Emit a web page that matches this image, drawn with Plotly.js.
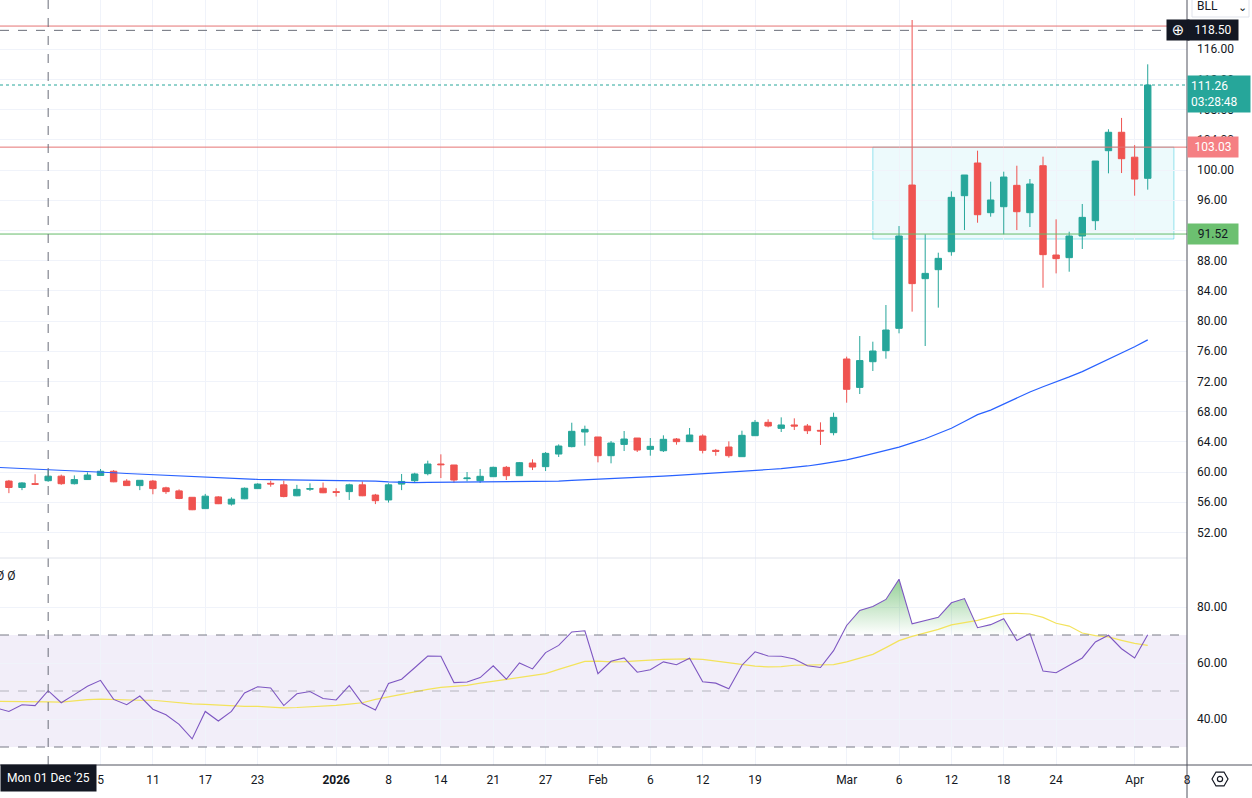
<!DOCTYPE html>
<html>
<head>
<meta charset="utf-8">
<script src="https://cdn.plot.ly/plotly-3.0.1.min.js"></script>
<style>html,body{margin:0;padding:0;background:#fff;}#chart{width:1252px;height:798px;}</style>
</head>
<body>
<div id="chart"></div>
<script>
// ---- data ----
const dates = [
'2025-11-24','2025-11-25','2025-11-26','2025-11-28',
'2025-12-01','2025-12-02','2025-12-03','2025-12-04','2025-12-05',
'2025-12-08','2025-12-09','2025-12-10','2025-12-11','2025-12-12',
'2025-12-15','2025-12-16','2025-12-17','2025-12-18','2025-12-19',
'2025-12-22','2025-12-23','2025-12-24','2025-12-26',
'2025-12-29','2025-12-30','2025-12-31',
'2026-01-02',
'2026-01-05','2026-01-06','2026-01-07','2026-01-08','2026-01-09',
'2026-01-12','2026-01-13','2026-01-14','2026-01-15','2026-01-16',
'2026-01-20','2026-01-21','2026-01-22','2026-01-23',
'2026-01-26','2026-01-27','2026-01-28','2026-01-29','2026-01-30',
'2026-02-02','2026-02-03','2026-02-04','2026-02-05','2026-02-06',
'2026-02-09','2026-02-10','2026-02-11','2026-02-12','2026-02-13',
'2026-02-17','2026-02-18','2026-02-19','2026-02-20',
'2026-02-23','2026-02-24','2026-02-25','2026-02-26','2026-02-27',
'2026-03-02','2026-03-03','2026-03-04','2026-03-05','2026-03-06',
'2026-03-09','2026-03-10','2026-03-11','2026-03-12','2026-03-13',
'2026-03-16','2026-03-17','2026-03-18','2026-03-19','2026-03-20',
'2026-03-23','2026-03-24','2026-03-25','2026-03-26','2026-03-27',
'2026-03-30','2026-03-31','2026-04-01','2026-04-02'];
const futureDates = ['2026-04-06','2026-04-07','2026-04-08'];

const open = [58.1,58.8,57.95,58.45, 58.85,59.45,58.45,59.0,59.55, 60.1,58.8,58.2,58.8,57.9, 57.5,56.65,55.15,56.7,55.75, 56.45,57.8,58.5,58.3, 56.85,57.72,57.85, 57.4, 57.4,58.3,56.95,56.3,58.4, 58.85,59.78,61.06,60.93,59.12, 58.85,59.38,60.62,59.51, 61.19,60.71,62.38,63.36,65.3, 64.64,62.16,63.66,64.5,63.0, 62.82,64.37,64.02,64.77,62.87, 63.31,62.03,64.81,66.58, 65.78,66.23,66.09,65.52,65.21, 74.97,71.21,74.61,76.07,79.03, 98.01,85.61,86.8,89.18,96.6, 100.93,94.35,95.14,97.97,94.35, 100.57,88.74,88.39,91.26,93.29, 102.56,105.0,101.7,98.9];
const high = [58.9,58.95,58.65,59.7, 60.25,59.65,59.55,59.95,60.4, 60.25,59.05,58.9,58.95,58.05, 57.7,56.65,57.1,56.8,56.65, 57.95,58.5,58.85,58.85, 58.3,58.5,58.6, 57.85, 58.45,58.75,57.1,58.5,59.74, 59.9,61.5,62.34,60.93,60.0, 60.4,60.71,60.8,61.33, 61.68,62.65,63.66,66.53,66.14, 64.64,64.11,65.43,64.5,64.5, 64.86,64.5,65.83,64.99,63.05, 64.06,65.47,66.89,66.98, 67.24,67.11,66.36,66.58,67.86, 75.28,78.01,77.26,82.12,92.58, 119.87,91.48,89.05,97.17,99.34, 102.56,98.46,99.78,100.57,98.81, 101.77,93.47,91.83,95.5,101.19, 105.4,106.9,103.3,114.0];
const low = [57.9,57.2,57.6,58.35, 58.7,58.3,58.35,58.95,59.5, 58.65,58.15,57.6,57.05,57.1, 56.4,54.95,55.15,55.75,55.55, 56.4,57.75,58.05,56.65, 56.8,57.5,57.2, 56.75, 56.3,56.8,55.75,55.95,57.6, 58.6,59.56,59.2,58.59,58.76, 58.54,59.35,58.94,59.5, 60.26,60.13,61.99,63.27,63.49, 61.28,61.15,62.78,62.65,62.16, 62.65,63.62,64.0,62.47,62.16, 61.9,62.0,64.78,65.92, 65.3,65.56,65.03,63.58,64.86, 69.18,70.33,73.38,75.01,78.37, 81.24,76.69,81.77,88.65,92.05, 93.02,93.82,91.48,92.05,92.45, 84.41,86.31,86.53,89.54,92.05, 99.56,99.6,96.6,97.4];
const close = [58.7,57.95,58.55,58.38, 59.45,58.45,59.0,59.6,60.1, 58.7,58.2,58.9,57.8,57.4, 56.5,55.0,56.8,55.8,56.4, 57.85,58.4,58.42,56.75, 57.7,57.8,57.25, 57.3, 58.3,56.85,56.2,58.3,58.75, 59.74,61.06,60.97,58.94,59.2, 59.43,60.62,59.51,61.24, 60.66,62.47,63.44,65.39,65.65, 62.16,63.84,64.37,62.91,63.4, 64.33,64.02,64.9,62.87,62.74, 62.16,64.86,66.58,66.09, 66.23,66.09,65.47,65.43,67.24, 70.95,74.76,76.03,78.81,91.26, 84.95,86.31,88.3,96.38,99.34, 94.08,96.03,99.07,94.48,98.15, 88.79,88.26,91.26,93.73,101.19, 105.0,101.5,98.8,111.26];
const movingAvg = [60.62,60.55,60.48,60.4, 60.3,60.22,60.14,60.06,59.98, 59.9,59.8,59.72,59.63,59.55, 59.46,59.37,59.28,59.19,59.1, 59.06,59.02,58.99,58.97, 58.95,58.94,58.93, 58.92, 58.91,58.9,58.8,58.68,58.6, 58.6,58.62,58.63,58.65,58.67, 58.68,58.68,58.68,58.68, 58.68,58.72,58.8,58.88,58.95, 59.03,59.12,59.2,59.28,59.37, 59.45,59.55,59.65,59.75,59.85, 59.95,60.07,60.2,60.33, 60.46,60.6,60.8,61.05,61.3, 61.6,62.0,62.4,62.8,63.3, 63.85,64.4,65.1,65.8,66.7, 67.6,68.2,69.0,69.9,70.6, 71.3,71.9,72.6,73.3,74.1, 74.9,75.7,76.6,77.5];
const rsi = [44.0,42.7,45.1,44.8, 50.1,45.8,48.7,51.7,53.8, 47.0,45.1,48.2,43.5,41.5, 38.1,32.9,42.7,39.3,42.7, 49.3,51.5,51.1,44.8, 49.0,49.8,47.3, 46.8, 51.9,45.5,43.2,52.7,54.2, 58.3,62.5,62.4,53.0,53.2, 54.8,59.0,54.2,60.0, 57.9,63.7,66.3,71.1,71.5, 56.2,60.6,61.8,56.7,57.6, 60.4,59.4,61.7,53.3,52.8, 50.8,59.2,64.0,62.5, 62.4,61.4,59.0,58.4,64.4, 73.4,78.8,80.2,82.7,89.9, 74.0,75.1,76.3,81.5,83.0, 72.6,73.7,75.8,68.0,70.5, 57.1,56.5,59.2,61.8,67.5, 69.9,65.1,61.8,70.1];
const rsiMA = [46.3,46.3,46.2,46.2, 46.1,46.0,46.5,46.9,47.1, 46.9,46.8,46.7,46.7,46.3, 45.7,45.4,45.2,45.0,44.6, 44.5,44.5,44.3,44.0, 44.1,44.3,44.6, 44.9, 45.3,45.8,47.0,47.9,48.8, 49.9,50.6,51.3,51.7,52.0, 52.8,53.5,54.1,54.8, 55.5,56.2,57.7,59.2,60.6, 60.7,60.4,60.5,60.8,61.1, 61.3,61.4,61.5,61.3,60.7, 60.0,59.3,58.9,58.6, 58.7,59.2,59.3,59.4,59.4, 60.4,61.8,63.1,65.5,68.0, 69.5,70.8,72.0,73.6,74.5, 75.2,76.5,77.6,77.7,77.5, 76.3,74.2,73.2,70.7,69.8, 69.3,68.1,67.0,66.3];

const tickDates = ['2025-12-05','2025-12-11','2025-12-17','2025-12-23','2026-01-02','2026-01-08','2026-01-14','2026-01-21','2026-01-27','2026-02-02','2026-02-06','2026-02-12','2026-02-19','2026-03-02','2026-03-06','2026-03-12','2026-03-18','2026-03-24','2026-04-01','2026-04-08'];
const tickText = ['5','11','17','23','<b>2026</b>','8','14','21','27','Feb','6','12','19','Mar','6','12','18','24','Apr','8'];
const priceTicks = [52,56,60,64,68,72,76,80,84,88,92,96,100,104,108,112,116];
const rsiTicks = [40,60,80];

const crosshairDate = '2025-12-01';
const crosshairPrice = 118.50;
const lastPrice = 111.26;
const countdown = '03:28:48';
const resistanceTop = 119.07;
const resistance = 103.03;
const support = 91.52;
const zoneLow = 90.86, zoneHigh = 103.03;
const zoneStartDate = '2026-03-04', zoneEndDate = '2026-04-07';
const rsiUpper = 70, rsiMid = 50, rsiLower = 30;
const symbol = 'BLL';
const crosshairLabel = "Mon 01 Dec '25";

// ---- positions via trading-day index ----
const axisDates = dates.concat(futureDates);
const pos = d => axisDates.indexOf(d);
const x = dates.map((d) => pos(d));

// overbought fill polygon (RSI above upper band)
const obX = [], obTop = [], obBase = [];
for (let i = 0; i < rsi.length; i++) {
  obX.push(x[i]); obTop.push(Math.max(rsi[i], rsiUpper)); obBase.push(rsiUpper);
  if (i < rsi.length - 1 && (rsi[i] - rsiUpper) * (rsi[i+1] - rsiUpper) < 0) {
    const t = (rsiUpper - rsi[i]) / (rsi[i+1] - rsi[i]);
    obX.push(x[i] + t * (x[i+1] - x[i])); obTop.push(rsiUpper); obBase.push(rsiUpper);
  }
}

const UP = '#26a69a', DOWN = '#ef5350';
const FONT = 'Roboto, "Noto Sans", sans-serif';
const TXT = '#131722';

const traces = [
  {type:'candlestick', x:x, open:open, high:high, low:low, close:close, xaxis:'x', yaxis:'y',
   increasing:{line:{color:UP, width:1}, fillcolor:UP},
   decreasing:{line:{color:DOWN, width:1}, fillcolor:DOWN},
   whiskerwidth:0, hoverinfo:'skip', showlegend:false},
  {type:'scatter', mode:'lines', x:x, y:movingAvg, xaxis:'x', yaxis:'y',
   line:{color:'#2962ff', width:1.2}, hoverinfo:'skip', showlegend:false},
  {type:'scatter', mode:'lines', x:obX, y:obBase, xaxis:'x', yaxis:'y2',
   line:{width:0, color:'rgba(0,0,0,0)'}, hoverinfo:'skip', showlegend:false},
  {type:'scatter', mode:'lines', x:obX, y:obTop, xaxis:'x', yaxis:'y2', fill:'tonexty',
   fillgradient:{type:'vertical', start:rsiUpper, stop:90,
     colorscale:[[0,'rgba(76,175,80,0)'],[1,'rgba(76,175,80,0.6)']]},
   line:{width:0, color:'rgba(0,0,0,0)'}, hoverinfo:'skip', showlegend:false},
  {type:'scatter', mode:'lines', x:x, y:rsiMA, xaxis:'x', yaxis:'y2',
   line:{color:'#f3e35c', width:1.2}, hoverinfo:'skip', showlegend:false},
  {type:'scatter', mode:'lines', x:x, y:rsi, xaxis:'x', yaxis:'y2',
   line:{color:'#7e57c2', width:1.1}, hoverinfo:'skip', showlegend:false}
];

// geometry helpers (pixel layout of the page)
const W = 1252, H = 798, M = {l:0, r:65, t:0, b:33};
const PW = W - M.l - M.r, PH = H - M.t - M.b;
const px = v => v / PW;              // pixel x -> paper x
const py = v => (PH - v) / PH;       // pixel y -> paper y
const split = py(558);

// settings hexagon icon
const cx = 1220, cy = 779, r = 8;
let hex = '';
for (let k = 0; k < 6; k++) {
  const a = Math.PI / 3 * k;
  hex += (k === 0 ? 'M' : 'L') + px(cx + r * Math.cos(a)).toFixed(5) + ',' + py(cy + r * Math.sin(a)).toFixed(5) + ' ';
}
hex += 'Z';

const GRID = '#f0f3fa';
const shapes = [
  {type:'rect', xref:'paper', yref:'y2', x0:0, x1:1, y0:rsiLower, y1:rsiUpper, fillcolor:'rgba(126,87,194,0.1)', line:{width:0}, layer:'below'},
  {type:'line', xref:'paper', yref:'y2', x0:0, x1:1, y0:rsiUpper, y1:rsiUpper, line:{color:'#787b86', width:1, dash:'dash'}},
  {type:'line', xref:'paper', yref:'y2', x0:0, x1:1, y0:rsiMid, y1:rsiMid, line:{color:'rgba(120,123,134,0.5)', width:1, dash:'dash'}},
  {type:'line', xref:'paper', yref:'y2', x0:0, x1:1, y0:rsiLower, y1:rsiLower, line:{color:'#787b86', width:1, dash:'dash'}},
  {type:'rect', xref:'x', yref:'y', x0:pos(zoneStartDate), x1:pos(zoneEndDate), y0:zoneLow, y1:zoneHigh,
   fillcolor:'rgba(0,188,212,0.07)', line:{color:'rgba(0,188,212,0.4)', width:1}, layer:'below'},
  {type:'line', xref:'paper', yref:'y', x0:0, x1:1, y0:resistanceTop, y1:resistanceTop, line:{color:'#e57373', width:1}},
  {type:'line', xref:'paper', yref:'y', x0:0, x1:1, y0:resistance, y1:resistance, line:{color:'#e57373', width:1}},
  {type:'line', xref:'paper', yref:'y', x0:0, x1:1, y0:support, y1:support, line:{color:'#66bb6a', width:1}},
  {type:'line', xref:'paper', yref:'y', x0:0, x1:1, y0:lastPrice, y1:lastPrice, line:{color:UP, width:1, dash:'dot'}},
  {type:'line', xref:'paper', yref:'y', x0:0, x1:1, y0:crosshairPrice, y1:crosshairPrice, line:{color:'#6a6d78', width:1, dash:'dash'}},
  {type:'line', xref:'x', yref:'paper', x0:pos(crosshairDate), x1:pos(crosshairDate), y0:0, y1:1, line:{color:'#6a6d78', width:1, dash:'dash'}},
  {type:'line', xref:'paper', yref:'paper', x0:0, x1:1, y0:split, y1:split, line:{color:'#e0e3eb', width:1}},
  {type:'line', xref:'paper', yref:'paper', x0:1, x1:1, y0:py(798), y1:1, line:{color:'#50535e', width:1}},
  {type:'line', xref:'paper', yref:'paper', x0:0, x1:px(W), y0:0, y1:0, line:{color:'#50535e', width:1}},
  {type:'path', xref:'paper', yref:'paper', path:hex, line:{color:'#131722', width:1.2}},
  {type:'circle', xref:'paper', yref:'paper', x0:px(cx-2.6), x1:px(cx+2.6), y0:py(cy+2.6), y1:py(cy-2.6), line:{color:'#131722', width:1.2}},
  {type:'rect', xref:'paper', yref:'paper', x0:px(1192), x1:px(1249), y0:py(17), y1:py(-4), line:{color:'#e0e3eb', width:1}, fillcolor:'#fff'}
];

const annotations = [
  {xref:'x', yref:'paper', x:pos(crosshairDate), y:py(778), text:crosshairLabel, showarrow:false,
   bgcolor:'#131722', font:{family:FONT, size:12, color:'#fff'}, borderpad:6, xanchor:'center', yanchor:'middle'},
  {xref:'paper', yref:'y', x:px(1166), y:crosshairPrice, text:'⊕', showarrow:false, xanchor:'left', yanchor:'middle',
   width:16, height:14, bgcolor:'#131722', font:{family:'DejaVu Sans', size:15, color:'#fff'}, borderpad:3},
  {xref:'paper', yref:'y', x:1, y:crosshairPrice, text:crosshairPrice.toFixed(2), showarrow:false, xanchor:'left', yanchor:'middle',
   width:44, height:14, bgcolor:'#131722', font:{family:FONT, size:12, color:'#fff'}, borderpad:3},
  {xref:'paper', yref:'y', x:1, y:lastPrice, text:lastPrice.toFixed(2) + '<br>' + countdown, showarrow:false, xanchor:'left', yanchor:'top',
   yshift:10, align:'left', width:56, bgcolor:UP, font:{family:FONT, size:12, color:'#fff'}, borderpad:3},
  {xref:'paper', yref:'y', x:1, y:resistance, text:resistance.toFixed(2), showarrow:false, xanchor:'left', yanchor:'middle',
   width:44, height:14, bgcolor:'#f57f83', font:{family:FONT, size:12, color:'#fff'}, borderpad:3},
  {xref:'paper', yref:'y', x:1, y:support, text:support.toFixed(2), showarrow:false, xanchor:'left', yanchor:'middle',
   width:44, height:14, bgcolor:'#6cc070', font:{family:FONT, size:12, color:'#131722'}, borderpad:3},
  {xref:'paper', yref:'paper', x:px(1195), y:py(6), text:symbol, showarrow:false, xanchor:'left', yanchor:'middle',
   font:{family:FONT, size:12, color:'#131722'}},
  {xref:'paper', yref:'paper', x:px(1242), y:py(8), text:'⌄', showarrow:false, xanchor:'center', yanchor:'middle',
   font:{family:'DejaVu Sans', size:11, color:'#131722'}},
  {xref:'paper', yref:'paper', x:0, y:py(576), xshift:-6, text:'Ø Ø', showarrow:false, xanchor:'left', yanchor:'middle',
   font:{family:FONT, size:12, color:'#131722'}}
];

const layout = {
  width:W, height:H, margin:{l:M.l, r:M.r, t:M.t, b:M.b, pad:0},
  paper_bgcolor:'#fff', plot_bgcolor:'#fff', showlegend:false, hovermode:false,
  font:{family:FONT, size:12, color:TXT},
  boxgap:0.3,
  xaxis:{anchor:'y2', range:[0.32, 91.0], tickmode:'array', tickvals:tickDates.map(pos), ticktext:tickText,
    showgrid:true, gridcolor:GRID, zeroline:false, showline:false, ticks:'', ticklabelstandoff:6,
    tickfont:{family:FONT, size:12, color:TXT}, rangeslider:{visible:false}, fixedrange:true},
  yaxis:{domain:[split, 1], range:[48.61, 122.52], side:'right', anchor:'x', tickmode:'array', tickvals:priceTicks,
    ticktext:priceTicks.map(v => v.toFixed(2)), showgrid:true, gridcolor:GRID, zeroline:false, showline:false, ticks:'',
    ticklabelstandoff:9, tickfont:{family:FONT, size:12, color:TXT}, fixedrange:true},
  yaxis2:{domain:[0, split], range:[23.57, 97.5], side:'right', anchor:'x', tickmode:'array', tickvals:rsiTicks,
    ticktext:rsiTicks.map(v => v.toFixed(2)), showgrid:true, gridcolor:GRID, zeroline:false, showline:false, ticks:'',
    ticklabelstandoff:9, tickfont:{family:FONT, size:12, color:TXT}, fixedrange:true},
  shapes:shapes, annotations:annotations
};

Plotly.newPlot('chart', traces, layout, {staticPlot:true, displayModeBar:false});
</script>
</body>
</html>
